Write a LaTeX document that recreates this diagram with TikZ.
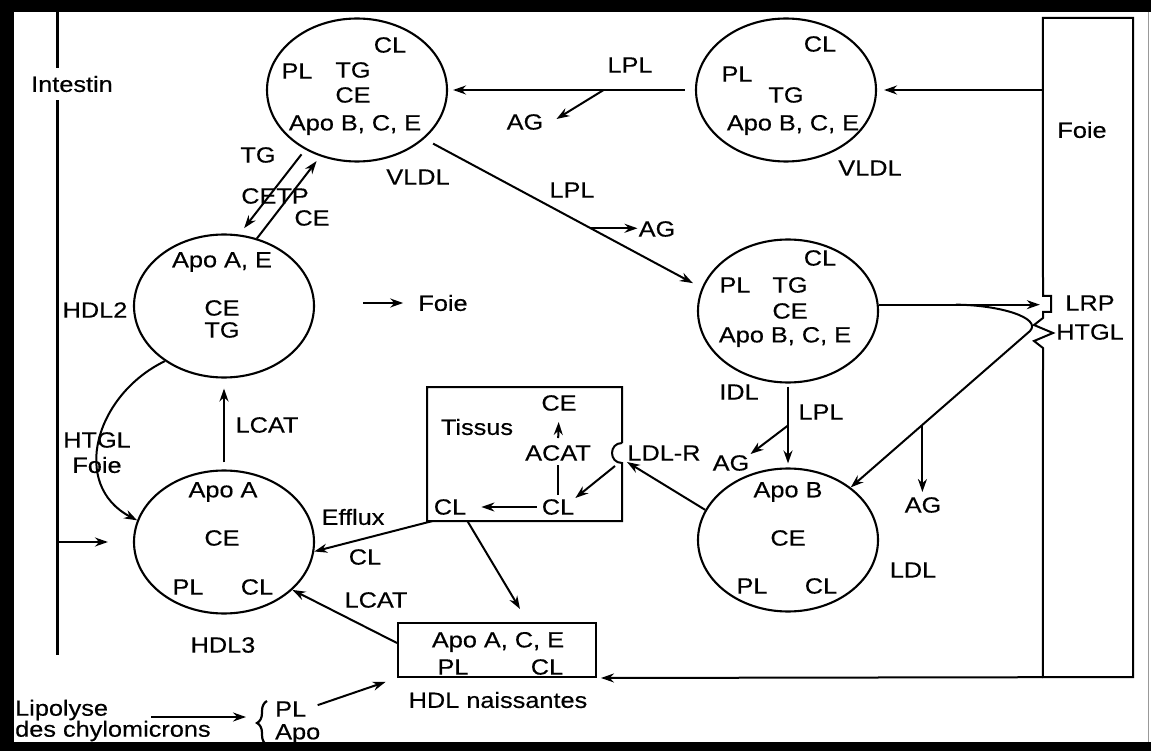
\documentclass[tikz,border=0pt]{standalone}
\usepackage{fontspec}
\setmainfont[FakeStretch=1.15, FakeBold=0.4]{Liberation Sans}
\usepackage{tikz}
\usetikzlibrary{calc, positioning, arrows.meta, shapes.geometric,
                decorations.pathreplacing}

\begin{document}
\begin{tikzpicture}[
  x=1pt, y=-1pt,
  >={Stealth[length=13pt, width=9pt]},
  font=\fontsize{22}{24}\selectfont,
  lipoprot/.style={ellipse, draw, line width=2.1pt, minimum width=180pt,
                   minimum height=143pt, inner sep=0pt},
  txt/.style={inner sep=1pt},
  fl/.style={->, line width=2pt, line join=round},
  trait/.style={line width=2pt},
  boite/.style={draw, line width=2pt, inner sep=0pt}
]

% ---------- Cadre ----------
\useasboundingbox (0,0) rectangle (1151,751);
\fill (0,0) rectangle (1151,12);
\fill (0,0) rectangle (14,751);
\fill (0,742) rectangle (1151,751);
\draw[black!40, line width=1pt] (1148,12) -- (1148,742);

% ---------- Intestin ----------
\node[txt, inner sep=8pt] (intestin) at (72,84) {Intestin};
\coordinate (intH) at (57,12);
\coordinate (intB) at (57,655);
\draw[line width=3pt] (intH) -- (intH |- intestin.north);
\draw[line width=3pt] (intH |- intestin.south) -- (intB);

% ---------- Particules ----------
\node[lipoprot] (vldl)  at (357,90)  {};
\node[lipoprot] (vldln) at (786,90)  {};
\node[lipoprot] (idl)   at (788,311) {};
\node[lipoprot] (ldl)   at (788,540) {};
\node[lipoprot] (hdl2)  at (224,306) {};
\node[lipoprot] (hdl3)  at (224,542) {};

% VLDL
\node[txt] (vCL)  at (390,45)  {CL};
\node[txt] (vPL)  at (297,71)  {PL};
\node[txt] (vTG)  at (353,70)  {TG};
\node[txt] (vCE)  at (353,95)  {CE};
\node[txt] (vApo) at (355,125) {Apo B, C, E};
\node[txt] (vNom) at (418,177) {VLDL};

% VLDL venant du foie
\node[txt] (nCL)  at (820,44)  {CL};
\node[txt] (nPL)  at (737,74)  {PL};
\node[txt] (nTG)  at (786,95)  {TG};
\node[txt] (nApo) at (793,125) {Apo B, C, E};
\node[txt] (nNom) at (870,168) {VLDL};

% IDL
\node[txt] (iCL)  at (820,258) {CL};
\node[txt] (iPL)  at (735,285) {PL};
\node[txt] (iTG)  at (790,285) {TG};
\node[txt] (iCE)  at (790,311) {CE};
\node[txt] (iApo) at (785,337) {Apo B, C, E};
\node[txt] (iNom) at (739,392) {IDL};

% LDL
\node[txt] (lApo) at (788,492) {Apo B};
\node[txt] (lCE)  at (788,538) {CE};
\node[txt] (lPL)  at (752,586) {PL};
\node[txt] (lCL)  at (821,586) {CL};
\node[txt] (lNom) at (913,570) {LDL};

% HDL2
\node[txt] (h2Apo) at (222,262) {Apo A, E};
\node[txt] (h2CE)  at (222,308) {CE};
\node[txt] (h2TG)  at (222,330) {TG};
\node[txt] (h2Nom) at (95,310)  {HDL2};

% HDL3
\node[txt] (h3Apo) at (223,492) {Apo A};
\node[txt] (h3CE)  at (222,538) {CE};
\node[txt] (h3PL)  at (188,587) {PL};
\node[txt] (h3CL)  at (257,587) {CL};
\node[txt] (h3Nom) at (223,645) {HDL3};

% ---------- Foie ----------
\node[inner sep=0pt, minimum width=90pt, minimum height=659pt] (foie)
  at (1088,347.5) {};
\node[txt] (foieT) at (1082,130) {Foie};
\node[txt] (lrp)   at (1090,303) {LRP};
\node[txt] (htglT) at (1090,332) {HTGL};
\draw[trait] (1043,296) -- (foie.north west) -- (foie.north east)
  -- (foie.south east) -- (foie.south west) -- (1043,348) -- (1034,341)
  -- (1053,333) -- (1034,325) -- (1043,318) -- (1043,312) -- (1051,312)
  -- (1051,296) -- cycle;

% ---------- Tissus ----------
\draw[trait] (622,443) -- (622,387) -- (427,387) -- (427,521) -- (622,521)
  -- (622,463) .. controls (608.7,463) and (608.7,443) .. (622,443);
\node[txt] (tissusT) at (477,427) {Tissus};
\node[txt] (tCE)   at (559,403) {CE};
\node[txt] (acat)  at (558,453) {ACAT};
\node[txt] (clIn)  at (558,507) {CL};
\node[txt] (clOut) at (450,507) {CL};
\node[txt] (ldlR)  at (664,453) {LDL-R};
\coordinate (recep) at (627,462);
\coordinate (ldlRb) at (615,466);

% ---------- HDL naissantes ----------
\node[boite, minimum width=198pt, minimum height=54pt] (naiss) at (497,650) {};
\node[txt] (naApo) at (498,642) {Apo A, C, E};
\node[txt] (naPL)  at (453,667) {PL};
\node[txt] (naCL)  at (547,667) {CL};
\node[txt] (naNom) at (498,700) {HDL naissantes};

% ---------- Lipolyse ----------
\node[txt, anchor=west] (lipo1) at (14,710) {Lipolyse};
\node[txt, anchor=west] (lipo2) at (14,731) {des chylomicrons};
\node[inner sep=0pt, anchor=west] (accPL)  at (275,709) {PL};
\node[inner sep=0pt, anchor=west] (accApo) at (275,734) {Apo};
\coordinate (lipoFl) at (151,717);
\coordinate (accol) at (246,717);
\draw[line width=2.2pt, decorate, decoration={brace, amplitude=10pt}]
  (267,745) -- (267,701);

% ---------- Etiquettes ----------
\node[txt] (lplH) at (630,65)  {LPL};
\node[txt] (agH)  at (525,122) {AG};
\node[txt] (lplV) at (572,190) {LPL};
\node[txt] (agV)  at (657,229) {AG};
\node[txt] (lplI) at (821,412) {LPL};
\node[txt] (agI)  at (731,463) {AG};
\node[txt] (agL)  at (923,505) {AG};
\node[txt] (tgC)  at (258,155) {TG};
\node[txt] (cetp) at (275,196) {CETP};
\node[txt] (ceC)  at (312,218) {CE};
\node[txt] (foieH) at (443,303) {Foie};
\node[txt] (lcatH) at (267,425) {LCAT};
\node[txt] (htglH) at (97,440) {HTGL};
\node[txt] (foieC) at (97,465) {Foie};
\node[txt] (efflux) at (353,517) {Efflux};
\node[txt] (clE)   at (365,557) {CL};
\node[txt] (lcatB) at (376,600) {LCAT};

% ---------- Fleches ----------
\draw[fl, shorten >=7pt] (foie.west |- vldln.east) -- (vldln.east);
\draw[fl, shorten <=10pt, shorten >=5pt] (vldln.west) -- (vldl.east);
\coordinate (bifH) at ($(vldln.west)!0.37!(vldl.east)$);
\draw[fl] (bifH) -- ($(agH.east)+(12,-3)$);

\draw[fl, shorten <=10pt, shorten >=10pt] (vldl.-36) -- (idl.165);
\coordinate (bifV) at ($(vldl.-36)!0.6!(idl.165)$);
\draw[fl] (bifV) -- (bifV -| agV.west);

\draw[fl, shorten >=3pt] (idl.4) -- (foie.west |- idl.4);
\coordinate (bifL) at ($(idl.4)!0.47!(foie.west |- idl.4)$);
\coordinate (htgl) at (1030,331);
\draw[fl] (bifL) .. controls (1000,305) and (1042,318) .. (htgl) -- (ldl.40);
\coordinate (bifA) at ($(htgl)!0.6!(ldl.40)$);
\draw[fl, shorten >=4pt] (bifA) -- (bifA |- agL.north);

\draw[fl, shorten <=3pt, shorten >=4pt] (idl.south) -- (ldl.north);
\coordinate (bifI) at ($(idl.south)!0.5!(ldl.north)$);
\draw[fl] (bifI) -- (agI.north east);

\draw[fl] (ldl.160) -- (recep);
\draw[fl] (ldlRb) -- (clIn.north east);
\draw[fl, shorten <=6pt, shorten >=10pt] (acat.north) -- (tCE.south);
\draw[trait, shorten <=3pt, shorten >=3pt] (clIn.north) -- (acat.south);
\draw[fl, shorten <=4pt, shorten >=14pt] (clIn.west) -- (clOut.east);

\draw[fl] ([yshift=-5pt]clOut.south west) -- (hdl3.-6);
\draw[fl] ([yshift=-5pt]clOut.south east) -- ($(naiss.north)+(23,-13)$);

\draw[fl, shorten <=6pt, shorten >=8pt] (vldl.229) -- (hdl2.78);
\draw[fl, shorten >=6pt] (hdl2.64) -- (vldl.241);
\draw[fl] ([xshift=-54pt]foieH.west) -- ([xshift=-14pt]foieH.west);
\draw[fl, shorten <=7pt, shorten >=10pt] (hdl3.north) -- (hdl2.south);
\draw[fl] (hdl2.223) .. controls (95,395) and (70,485) .. (hdl3.166);
\draw[fl, shorten >=25pt] (intB |- hdl3.west) -- (hdl3.west);

\draw[fl] ([yshift=7pt]naiss.west) -- (hdl3.-35);
\draw[fl, shorten >=4pt] (foie.south west) -- (naiss.south east);
\draw[fl] (lipoFl) -- (accol);
\draw[fl, shorten <=12pt, shorten >=12pt] (accPL.east) -- (naiss.south west);

\end{tikzpicture}
\end{document}
